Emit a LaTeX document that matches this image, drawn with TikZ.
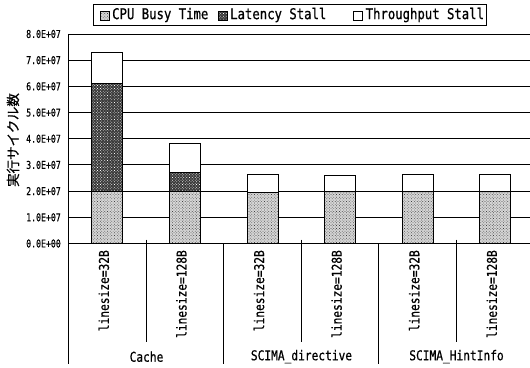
\documentclass[tikz,border=0pt]{standalone}
\usepackage{fontspec}
\newfontfamily\gmono[FakeStretch=0.83,FakeBold=0.7]{DejaVu Sans Mono}
\newfontfamily\gmonotick[FakeStretch=0.76,FakeBold=0.6]{DejaVu Sans Mono}
\newfontfamily\jgothic[FakeBold=0.6]{Noto Sans CJK JP}
\usetikzlibrary{patterns.meta}

% layout constants (1 unit = 1pt, y grows downward)
\def\yz{243.5}   % position of the value 0
\def\yu{26.19}   % height of 1.0E+07
\def\xo{68.5}    % left axis
\def\cw{77.6}    % width of one category
\def\bw{15.5}    % half width of a bar

\tikzset{
  gridline/.style={line width=0.9pt},
  axisline/.style={line width=1.1pt},
  busyfill/.style={preaction={fill=black!16},
    pattern={Dots[distance=2pt,radius=0.5pt,angle=45]}, pattern color=black!75},
  latfill/.style={preaction={fill=black!78},
    pattern={Dots[distance=2pt,radius=0.5pt,angle=45]}, pattern color=white},
  thrfill/.style={fill=white},
  barbox/.style={draw=black, line width=0.8pt},
  yticklabel/.style={anchor=east, inner sep=0pt, font=\gmonotick\fontsize{10.8}{12}\selectfont},
  xticklabel/.style={rotate=90, anchor=east, inner sep=0pt, font=\gmono\fontsize{13.5}{15}\selectfont},
  grouplabel/.style={inner sep=0pt, font=\gmono\fontsize{13.5}{15}\selectfont},
  legtext/.style={anchor=west, inner sep=0pt, font=\gmono\fontsize{14.8}{16}\selectfont},
  swatch/.style={draw=black, line width=0.6pt, minimum size=9pt, inner sep=0pt},
  legframe/.style={draw=black, line width=0.8pt, inner sep=0pt},
}

\begin{document}
\begin{tikzpicture}[x=1pt,y=-1pt]
\useasboundingbox (0,0) rectangle (530,367);

% horizontal grid
\foreach \v in {1,...,8}
  \draw[gridline] (\xo,\yz-\yu*\v) -- (530,\yz-\yu*\v);

% y tick labels
\foreach \v/\t in {0/0.0E+00,1/1.0E+07,2/2.0E+07,3/3.0E+07,4/4.0E+07,
                   5/5.0E+07,6/6.0E+07,7/7.0E+07,8/8.0E+07}
  \node[yticklabel] (ytick\v) at (61,\yz-\yu*\v) {\t};

% y axis title
\node[rotate=90, inner sep=0pt, font=\jgothic\fontsize{13.5}{15}\selectfont]
  (ytitle) at (13,140) {実行サイクル数};

% stacked bars: busy top / latency top / total (in 1.0E+07)
\foreach \k/\b/\l/\t in {0/1.98/6.1/7.3, 1/1.98/2.73/3.84, 2/1.97/1.97/2.63,
                         3/1.98/1.98/2.60, 4/1.98/1.98/2.63, 5/1.98/1.98/2.63} {
  \pgfmathsetmacro\cx{\xo+\cw*(\k+0.5)}
  \pgfmathsetmacro\xl{\cx-\bw}
  \pgfmathsetmacro\xr{\cx+\bw}
  \pgfmathsetmacro\yb{\yz-\yu*\b}
  \pgfmathsetmacro\yl{\yz-\yu*\l}
  \pgfmathsetmacro\yt{\yz-\yu*\t}
  \path[busyfill] (\xl,\yz) rectangle (\xr,\yb);
  \path[latfill] (\xl,\yb) rectangle (\xr,\yl);
  \path[thrfill] (\xl,\yl) rectangle (\xr,\yt);
  \draw[barbox] (\xl,\yz) rectangle (\xr,\yt);
  \draw[barbox] (\xl,\yb) -- (\xr,\yb);
  \draw[barbox] (\xl,\yl) -- (\xr,\yl);
}

% axes
\draw[axisline] (\xo,\yz) -- (530,\yz);
\draw[axisline] (\xo,\yz-\yu*8) -- (\xo,364);

% category separators
\foreach \x in {146.5,301.5,456.5}
  \draw[axisline] (\x,239.5) -- (\x,342);
\foreach \x in {223.5,378.5}
  \draw[axisline] (\x,\yz) -- (\x,364);

% category labels
\foreach \k/\t in {0/linesize=32B,1/linesize=128B,2/linesize=32B,
                   3/linesize=128B,4/linesize=32B,5/linesize=128B}
  \node[xticklabel] (xl\k) at ({\xo+\cw*(\k+0.5)-3.5},250) {\t};

% group labels
\node[grouplabel] (gcache) at (146.5,356.7) {Cache};
\node[grouplabel] (gdir) at (301.5,356.7) {SCIMA\_directive};
\node[grouplabel] (ghint) at (456.5,356.7) {SCIMA\_HintInfo};

% legend
\node[legframe, minimum width=393pt, minimum height=21pt] (legend) at (289.5,15) {};
\node[swatch, busyfill] (sw1) at (105,15.5) {};
\node[legtext] (lt1) at (112,15) {CPU Busy Time};
\node[swatch, latfill] (sw2) at (222.5,15.5) {};
\node[legtext] (lt2) at (230,15) {Latency Stall};
\node[swatch, thrfill] (sw3) at (358,15.5) {};
\node[legtext] (lt3) at (365.5,15) {Throughput Stall};
\end{tikzpicture}
\end{document}
